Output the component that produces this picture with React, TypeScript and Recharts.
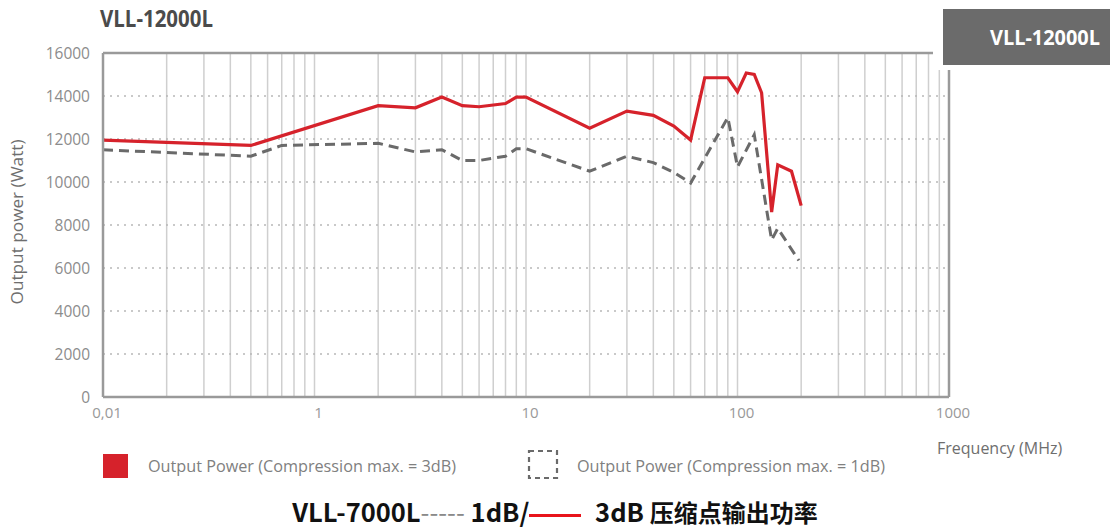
import React from "react";
import { LineChart, Line, XAxis, YAxis, CartesianGrid, ReferenceLine } from "recharts";

// 3dB compression curve (MHz, Watt)
const freq3dB = [0.1, 0.5, 2, 3, 4, 5, 6, 8, 9, 10, 20, 30, 40, 50, 60, 70, 90, 100, 110, 120, 130, 145, 155, 180, 200];
const power3dB = [11950, 11700, 13550, 13450, 13950, 13550, 13500, 13650, 13950, 13950, 12500, 13300, 13100, 12600, 11950, 14850, 14850, 14200, 15070, 15000, 14150, 8600, 10800, 10500, 8900];

// 1dB compression curve (MHz, Watt)
const freq1dB = [0.1, 0.5, 0.7, 2, 3, 4, 5, 6, 8, 9, 10, 20, 30, 40, 50, 60, 90, 100, 120, 145, 155, 195];
const power1dB = [11500, 11200, 11700, 11800, 11400, 11500, 11000, 11000, 11200, 11550, 11550, 10500, 11200, 10900, 10450, 9950, 13000, 10700, 12200, 7300, 7850, 6350];

const yTicks = [0, 2000, 4000, 6000, 8000, 10000, 12000, 14000, 16000];
const xMajor = [0.1, 1, 10, 100, 1000];
const xMajorLabels = ["0,01", "1", "10", "100", "1000"];
const minorSteps = [1, 2, 3, 4, 5, 6, 7, 8, 9];

const xTicks = [
  ...xMajor.slice(0, -1).flatMap((d) => minorSteps.map((m) => Number((d * m).toPrecision(3)))),
  1000,
];

const data3dB = freq3dB.map((f, i) => ({ freq: f, power: power3dB[i] }));
const data1dB = freq1dB.map((f, i) => ({ freq: f, power: power1dB[i] }));

const RED = "#d6222b";
const DARK = "#6a6a6a";
const TEXT = "#808080";
const SANS = "'Open Sans', 'Noto Sans', sans-serif";

const xLabel = (v: number) => {
  const i = xMajor.indexOf(v);
  return i >= 0 ? xMajorLabels[i] : "";
};

export default function App() {
  return (
    <div style={{ position: "absolute", left: 0, top: 0, width: 1110, height: 531, background: "#fff", overflow: "hidden" }}>
      <LineChart width={1110} height={531} margin={{ top: 53, right: 161, bottom: 94, left: 43 }}>
        <CartesianGrid vertical horizontal={false} stroke="#cfcfcf" strokeWidth={1.5} />
        <CartesianGrid vertical={false} horizontal stroke="#b8b8b8" strokeWidth={1.6} strokeDasharray="2 5" />
        <XAxis
          dataKey="freq"
          type="number"
          scale="log"
          domain={[0.1, 1000]}
          ticks={xTicks}
          interval={0}
          allowDataOverflow
          tickFormatter={xLabel}
          tickLine={false}
          tickSize={0}
          tickMargin={10}
          height={40}
          axisLine={{ stroke: "#9a9a9a", strokeWidth: 2.5 }}
          tick={{ fill: "#999", fontSize: 15, fontFamily: SANS, dx: 4 }}
        />
        <YAxis
          type="number"
          domain={[0, 16000]}
          ticks={yTicks}
          interval={0}
          width={60}
          tickLine={false}
          tickSize={0}
          tickMargin={13}
          axisLine={{ stroke: "#9a9a9a", strokeWidth: 2.5 }}
          tick={{ fill: "#8c8c8c", fontSize: 15.5, fontFamily: SANS }}
        />
        <ReferenceLine y={16000} stroke="#9a9a9a" strokeWidth={2.5} />
        <ReferenceLine x={1000} stroke="#9a9a9a" strokeWidth={2.5} />
        <Line
          data={data1dB}
          dataKey="power"
          type="linear"
          stroke={DARK}
          strokeWidth={3}
          strokeDasharray="10 6"
          dot={false}
          activeDot={false}
          isAnimationActive={false}
        />
        <Line
          data={data3dB}
          dataKey="power"
          type="linear"
          stroke={RED}
          strokeWidth={3.2}
          dot={false}
          activeDot={false}
          isAnimationActive={false}
        />
      </LineChart>

      <svg width={1110} height={531} style={{ position: "absolute", left: 0, top: 0, pointerEvents: "none" }}>
        <text x={100} y={27} fontFamily={SANS} fontWeight={700} fontSize={23} fill="#4b4b4b" textLength={113} lengthAdjust="spacingAndGlyphs">
          VLL-12000L
        </text>
        <rect x={933} y={0} width={177} height={70} fill="#fff" />
        <rect x={943} y={9} width={167} height={56} fill="#6b6b6b" />
        <text
          x={1100}
          y={45}
          textAnchor="end"
          fontFamily={SANS}
          fontWeight={700}
          fontSize={21}
          fill="#fff"
          textLength={110}
          lengthAdjust="spacingAndGlyphs"
        >
          VLL-12000L
        </text>
        <text
          transform="rotate(-90)"
          x={-222}
          y={23}
          textAnchor="middle"
          fontFamily={SANS}
          fontSize={15.5}
          fill="#6e6e6e"
          textLength={165}
          lengthAdjust="spacingAndGlyphs"
        >
          Output power (Watt)
        </text>
        <text x={937} y={454} fontFamily={SANS} fontSize={16} fill="#6e6e6e">
          Frequency (MHz)
        </text>
        <rect x={103} y={454} width={25} height={24} fill={RED} />
        <text x={148} y={472} fontFamily={SANS} fontSize={16} fill={TEXT} textLength={308} lengthAdjust="spacingAndGlyphs">
          Output Power (Compression max. = 3dB)
        </text>
        <rect x={529} y={451} width={28} height={27} fill="none" stroke={DARK} strokeWidth={2.2} strokeDasharray="5 4" />
        <text x={577} y={472} fontFamily={SANS} fontSize={16} fill={TEXT} textLength={308} lengthAdjust="spacingAndGlyphs">
          Output Power (Compression max. = 1dB)
        </text>
      </svg>

      <div
        style={{
          position: "absolute",
          left: 0,
          top: 494,
          width: 1110,
          textAlign: "center",
          fontFamily: "'Noto Sans CJK SC', 'Noto Sans', sans-serif",
          fontWeight: 700,
          fontSize: 24,
          lineHeight: "34px",
          color: "#111",
          whiteSpace: "nowrap",
        }}
      >
        <span style={{ fontSize: 25.5 }}>VLL-7000L</span>
        <span style={{ color: "#8a8a8a", fontWeight: 400, fontSize: 25.5 }}>-----</span>
        <span style={{ fontSize: 25.5 }}> 1dB/</span>
        <span style={{ display: "inline-block", width: 52, height: 3, background: "#e8141b", verticalAlign: "middle", marginRight: 8 }} />
        <span style={{ fontSize: 25.5 }}> 3dB </span>压缩点输出功率
      </div>
    </div>
  );
}
